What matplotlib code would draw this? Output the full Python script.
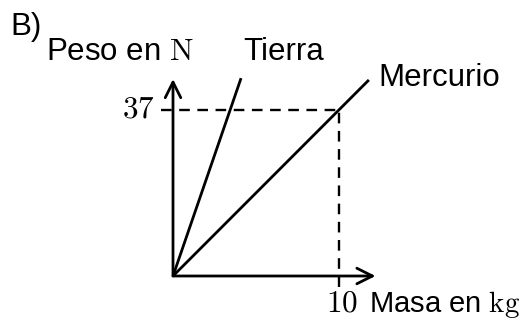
import matplotlib.pyplot as plt

plt.rcParams['font.family'] = ['Liberation Sans', 'DejaVu Sans']
plt.rcParams['mathtext.fontset'] = 'cm'

# datos
masa_ref = 10        # kg
peso_ref = 37        # N
x_max = 12.2         # fin del eje de masa
y_max = 43.9         # fin del eje de peso
tierra_x = [0, 4.1]
tierra_y = [0, 44.1]
mercurio_x = [0, 11.8]
mercurio_y = [0, 43.7]

W, H = 532, 321
fig = plt.figure(figsize=(W / 100, H / 100), dpi=100)
ax = fig.add_axes([0, 0, 1, 1])
# origen en (173, 276) px, 16.6 px por kg, 166/37 px por N
sx = 16.6
sy = 166 / 37
ax.set_xlim(-173 / sx, (W - 173) / sx)
ax.set_ylim((276 - H) / sy, 276 / sy)
ax.axis('off')

lw = 2.0
arr = dict(arrowstyle='->', lw=lw, color='black', mutation_scale=28,
           shrinkA=0, shrinkB=0)
ax.annotate('', xy=(x_max, 0), xytext=(0, 0), arrowprops=arr)
ax.annotate('', xy=(0, y_max), xytext=(0, 0), arrowprops=arr)

ax.plot(tierra_x, tierra_y, color='black', lw=lw, solid_capstyle='butt')
ax.plot(mercurio_x, mercurio_y, color='black', lw=lw, solid_capstyle='butt')

dash = dict(color='black', lw=1.7, dashes=(4.5, 3.2))
ax.plot([-12 / sx, masa_ref], [peso_ref, peso_ref], **dash)
ax.plot([masa_ref, masa_ref], [-11 / sy, peso_ref], **dash)


def t(x, y, s, size=22.5):
    fig.text(x / W, 1 - y / H, s, ha='left', va='baseline', fontsize=size)


t(10, 35, 'B)')
t(46, 60, r'Peso en $\mathrm{N}$')
t(243, 60, 'Tierra')
t(378, 86, 'Mercurio')
t(122, 118, r'$%d$' % peso_ref)
t(326, 312, r'$%d$' % masa_ref)
t(369, 312, r'Masa en $\mathrm{kg}$', size=21)

fig.savefig('out.png', dpi=100)
